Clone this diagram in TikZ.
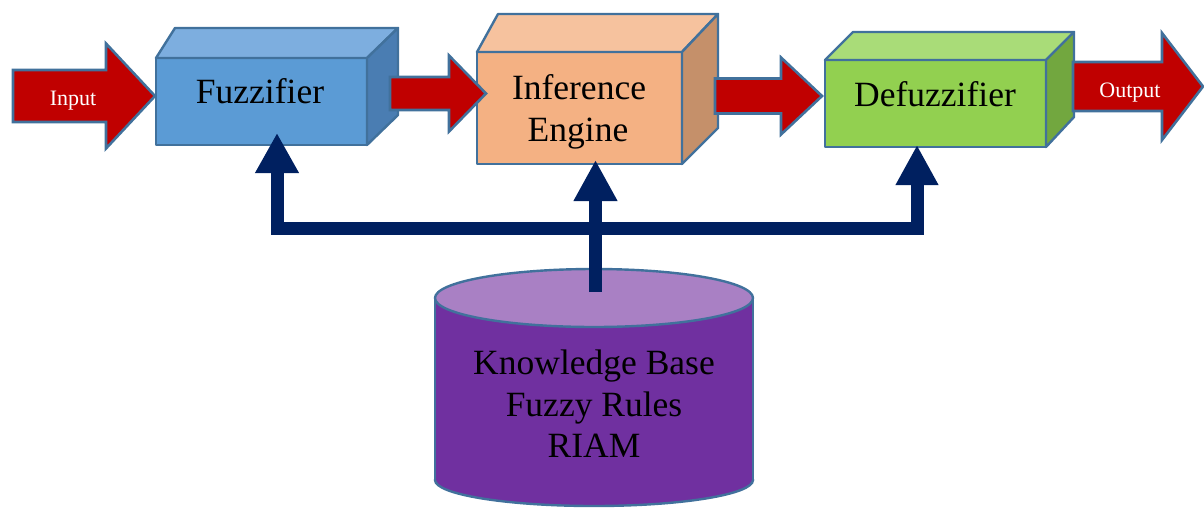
\documentclass[tikz,border=0pt]{standalone}
\usepackage{fontspec}
\setmainfont{Liberation Serif}
\usetikzlibrary{arrows.meta}
\definecolor{edgeblue}{HTML}{41719C}
\definecolor{fuzfront}{HTML}{5B9BD5}
\definecolor{fuztop}{HTML}{7DAEDF}
\definecolor{fuzside}{HTML}{4A7DB2}
\definecolor{inffront}{HTML}{F4B183}
\definecolor{inftop}{HTML}{F6C29E}
\definecolor{infside}{HTML}{C5906A}
\definecolor{deffront}{HTML}{92D050}
\definecolor{deftop}{HTML}{A9DC78}
\definecolor{defside}{HTML}{72A73F}
\definecolor{cylbody}{HTML}{7030A0}
\definecolor{cyltop}{HTML}{A980C4}
\definecolor{redfill}{HTML}{C00000}
\definecolor{navy}{HTML}{002060}
\newcommand{\redarrow}[6]{%
  \draw[redarr] (#1,{#4-#5}) -- (#2,{#4-#5}) -- (#2,{#4-#6}) -- (#3,#4)
    -- (#2,{#4+#6}) -- (#2,{#4+#5}) -- (#1,{#4+#5}) -- cycle;}
\tikzset{
  face/.style={draw=edgeblue, line width=2.4pt, line join=round},
  frontface/.style={face, inner sep=0pt, outer sep=0pt},
  redarr/.style={fill=redfill, draw=edgeblue, line width=2.6pt, line join=miter},
  bigtext/.style={font=\fontsize{35.5}{42}\selectfont, inner sep=0pt, anchor=base},
  smalltext/.style={font=\fontsize{22}{26}\selectfont, text=white, inner sep=0pt, anchor=base},
  link/.style={draw=navy, line width=13pt, line join=miter}
}
\begin{document}
\begin{tikzpicture}[x=1pt,y=-1pt]
\useasboundingbox (0,0) rectangle (1204,507);

% Fuzzifier box
\node[frontface, fill=fuzfront, minimum width=211pt, minimum height=87pt] (fuz) at (261.5,101.5) {};
\draw[face, fill=fuztop] (fuz.north west) -- (175,28) -- (398,28) -- (fuz.north east) -- cycle;
\draw[face, fill=fuzside] (fuz.north east) -- (398,28) -- (398,115) -- (fuz.south east) -- cycle;

% Inference box
\node[frontface, fill=inffront, minimum width=205pt, minimum height=112pt] (inf) at (579.5,108) {};
\draw[face, fill=inftop] (inf.north west) -- (498,14) -- (718,14) -- (inf.north east) -- cycle;
\draw[face, fill=infside] (inf.north east) -- (718,14) -- (718,128) -- (inf.south east) -- cycle;

% Defuzzifier box
\node[frontface, fill=deffront, minimum width=221pt, minimum height=87pt] (defz) at (935.5,103.5) {};
\draw[face, fill=deftop] (defz.north west) -- (853,32) -- (1074,32) -- (defz.north east) -- cycle;
\draw[face, fill=defside] (defz.north east) -- (1074,32) -- (1074,117) -- (defz.south east) -- cycle;

% red block arrows
\redarrow{13}{106}{155}{96}{26}{52.5}
\redarrow{390}{449}{486}{93.5}{16.5}{38}
\redarrow{715}{781}{822}{96}{17.5}{38.5}
\redarrow{1073}{1162}{1203}{86.5}{24.5}{53.5}

% knowledge base cylinder
\fill[cylbody, draw=edgeblue, line width=2.4pt] (594,480) ellipse[x radius=159, y radius=26];
\fill[cylbody] (435,298) rectangle (753,480);
\draw[edgeblue, line width=2.4pt] (435,298) -- (435,480) (753,298) -- (753,480);
\draw[face, fill=cyltop] (594,298) ellipse[x radius=159, y radius=29];
\coordinate (kbtop) at (595.5,292);

% navy connectors
\coordinate (fuzin) at (277,133);
\coordinate (defin) at (917,145);
\coordinate (infin) at (595.5,160);
\draw[link, {Triangle[width=41pt,length=40pt]}-{Triangle[width=40pt,length=40pt]}]
  (fuzin) -- (277,228) -- (917,228) -- (defin);
\draw[link, -{Triangle[width=41pt,length=41pt]}] (kbtop) -- (infin);

% texts
\node[smalltext] (inputlbl) at (73,105) {Input};
\node[smalltext] (outputlbl) at (1130,97) {Output};
\node[bigtext] (fuzlbl) at (260,103) {Fuzzifier};
\node[bigtext] (inflbla) at (579,99) {Inference};
\node[bigtext] (inflblb) at (578,141) {Engine};
\node[bigtext] (deflbl) at (935,106) {Defuzzifier};
\node[bigtext] (kba) at (594,374) {Knowledge Base};
\node[bigtext] (kbb) at (594,416) {Fuzzy Rules};
\node[bigtext] (kbc) at (594,457) {RIAM};
\end{tikzpicture}
\end{document}
